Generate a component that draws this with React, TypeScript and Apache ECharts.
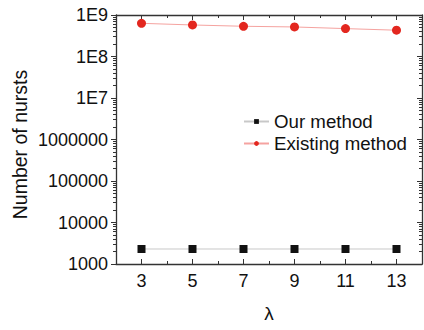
import React, { useEffect, useRef } from "react";
import * as echarts from "echarts";

const lambdas = [3, 5, 7, 9, 11, 13];
const ourMethod = [2300, 2300, 2300, 2300, 2300, 2300];
const existingMethod = [6.3e8, 5.75e8, 5.35e8, 5.15e8, 4.7e8, 4.3e8];
const xMajorTicks = [3, 5, 7, 9, 11, 13];
const xMinorTicks = [4, 6, 8, 10, 12];
const yMajorTicks = [1e3, 1e4, 1e5, 1e6, 1e7, 1e8, 1e9];
const yMinorTicks: number[] = [];
for (let e = 3; e < 9; e++) {
  for (let m = 2; m <= 9; m++) yMinorTicks.push(m * Math.pow(10, e));
}
const yAxisTitle = "Number of nursts";
const xAxisTitle = "λ";

const FONT = "'Liberation Sans', Arial, sans-serif";
const AXIS_COLOR = "#333";

function formatY(v: number) {
  const e = Math.round(Math.log10(v));
  if (e >= 7) return "1E" + e;
  return String(Math.round(v));
}

export default function App() {
  const ref = useRef<HTMLDivElement>(null);
  useEffect(() => {
    if (!ref.current) return;
    const chart = echarts.init(ref.current, null, { renderer: "svg" });
    const baseX = (pos: "bottom" | "top", ticks: number[], len: number, labels: boolean, line: boolean, name?: string) => ({
      type: "value",
      position: pos,
      min: 2,
      max: 14,
      interval: 1,
      name: name,
      nameLocation: "middle",
      nameGap: 40,
      nameTextStyle: { fontFamily: FONT, fontSize: 19, color: "#111" },
      axisLine: { show: line, onZero: false, lineStyle: { color: AXIS_COLOR, width: 1.3 } },
      axisTick: { show: true, inside: true, length: len, customValues: ticks, lineStyle: { color: AXIS_COLOR, width: 1 } },
      axisLabel: labels
        ? { show: true, customValues: xMajorTicks, margin: 8, fontFamily: FONT, fontSize: 18, color: "#111" }
        : { show: false },
      splitLine: { show: false },
    });
    const baseY = (pos: "left" | "right", ticks: number[], len: number, inside: boolean, labels: boolean, line: boolean) => ({
      type: "log",
      logBase: 10,
      position: pos,
      min: 1e3,
      max: 1e9,
      axisLine: { show: line, onZero: false, lineStyle: { color: AXIS_COLOR, width: 1.3 } },
      axisTick: { show: true, inside: inside, length: len, customValues: ticks, lineStyle: { color: AXIS_COLOR, width: 1 } },
      axisLabel: labels
        ? { show: true, customValues: yMajorTicks, margin: 8, fontFamily: FONT, fontSize: 18, color: "#111", formatter: formatY }
        : { show: false },
      splitLine: { show: false },
    });
    chart.setOption({
      animation: false,
      backgroundColor: "#fff",
      grid: { left: 116, top: 15, right: 2, bottom: 66, containLabel: false },
      legend: {
        orient: "vertical",
        left: 243,
        top: 112,
        padding: 0,
        itemWidth: 25,
        itemHeight: 6,
        itemGap: 3,
        textStyle: { fontFamily: FONT, fontSize: 18.7, color: "#111" },
        data: ["Our method", "Existing method"],
      },
      graphic: [
        {
          type: "text",
          x: 20,
          y: 144.5,
          rotation: Math.PI / 2,
          style: {
            text: yAxisTitle,
            fontFamily: FONT,
            fontSize: 19.5,
            fill: "#111",
            align: "center",
            verticalAlign: "middle",
          },
        },
      ],
      xAxis: [
        baseX("bottom", xMajorTicks, 5, true, true, xAxisTitle),
        baseX("top", xMajorTicks, 5, false, true),
        baseX("bottom", xMinorTicks, 3, false, false),
        baseX("top", xMinorTicks, 3, false, false),
      ],
      yAxis: [
        baseY("left", yMajorTicks, 5, false, true, true),
        baseY("left", yMinorTicks, 3, false, false, false),
        baseY("right", yMajorTicks, 5, true, false, true),
        baseY("right", yMinorTicks, 3, true, false, false),
      ],
      series: [
        {
          name: "Our method",
          type: "line",
          xAxisIndex: 0,
          yAxisIndex: 0,
          data: lambdas.map((x, i) => [x, ourMethod[i]]),
          symbol: "rect",
          symbolSize: 8,
          itemStyle: { color: "#111" },
          lineStyle: { color: "#c8c8c8", width: 1 },
        },
        {
          name: "Existing method",
          type: "line",
          xAxisIndex: 0,
          yAxisIndex: 0,
          data: lambdas.map((x, i) => [x, existingMethod[i]]),
          symbol: "circle",
          symbolSize: 9,
          itemStyle: { color: "#e3271f" },
          lineStyle: { color: "#f5a3a0", width: 1 },
        },
      ],
    });
    return () => chart.dispose();
  }, []);
  return <div ref={ref} style={{ width: 424, height: 330, position: "absolute", left: 0, top: 0 }} />;
}
